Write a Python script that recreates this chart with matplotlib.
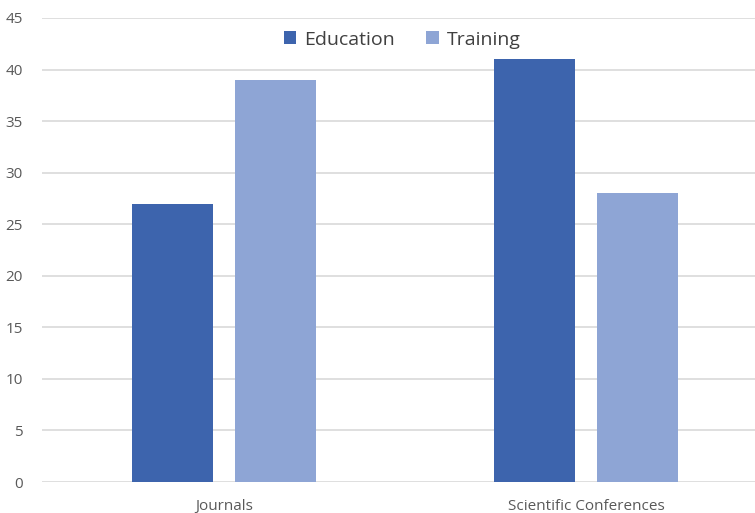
import numpy as np
import matplotlib
matplotlib.use("Agg")
import matplotlib.pyplot as plt

categories = ["Journals", "Scientific Conferences"]
education = [27, 41]
training = [39, 28]

plt.rcParams['font.family'] = ['Open Sans', 'DejaVu Sans']

fig = plt.figure(figsize=(7.55, 5.13), dpi=100)
ax = fig.add_axes([0.0556, 0.0604, 0.9444, 0.9046])

x = np.arange(len(categories))
w = 0.224
ax.bar(x - 0.142, education, w, color="#3d64ad", label="Education", zorder=3)
ax.bar(x + 0.142, training, w, color="#8ea5d5", label="Training", zorder=3)

ax.set_xlim(-0.503, 1.467)
ax.set_ylim(0, 45)
ax.set_yticks(range(0, 46, 5))
ax.set_xticks(x)
ax.set_xticklabels(categories)
ax.yaxis.grid(True, color="#d9d9d9", linewidth=1.2, zorder=0)
for s in ax.spines.values():
    s.set_visible(False)
ax.tick_params(length=0, labelsize=11, colors="#595959")
ax.tick_params(axis='x', pad=12)
ax.tick_params(axis='y', pad=14)

leg = ax.legend(loc="upper center", bbox_to_anchor=(0.505, 1.01), ncol=2, frameon=False,
                fontsize=14, handlelength=0.65, handleheight=0.65, columnspacing=1.6,
                handletextpad=0.4)
for t in leg.get_texts():
    t.set_color("#404040")

fig.savefig("out.png", dpi=100)
